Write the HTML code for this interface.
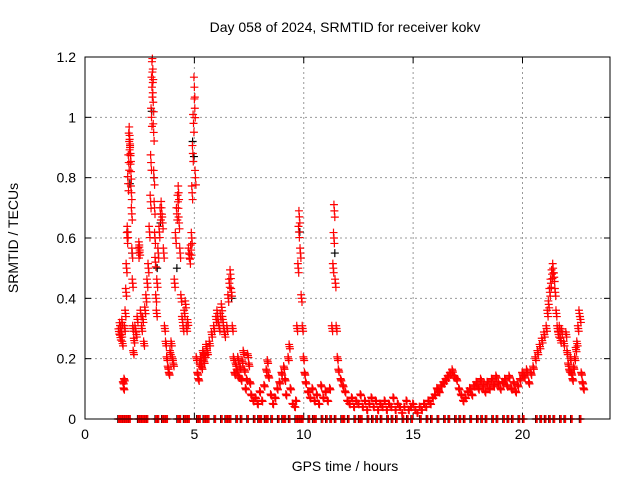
<!DOCTYPE html>
<html><head><meta charset="utf-8"><style>
body{margin:0;background:#fff}
svg{display:block;font-family:"Liberation Sans",sans-serif}
</style></head><body>
<svg id="chart" width="640" height="480" viewBox="0 0 640 480" xmlns="http://www.w3.org/2000/svg">
<rect width="640" height="480" fill="#fff"/>
<text x="345" y="32" font-size="14" text-anchor="middle">Day 058 of 2024, SRMTID for receiver kokv</text>
<text x="345" y="471" font-size="14" text-anchor="middle">GPS time / hours</text>
<text transform="translate(18,238) rotate(-90)" font-size="14" text-anchor="middle">SRMTID / TECUs</text>
<g id="grid"></g>
<g id="ticks"></g>
<g id="marks"></g>
<rect x="85" y="57" width="525" height="362" fill="none" stroke="#000" stroke-width="1"/>
</svg>
<script>
const xTicks=[0,5,10,15,20];
const yTicks=[0,0.2,0.4,0.6,0.8,1.0,1.2];
const yTickLabels=["0","0.2","0.4","0.6","0.8","1","1.2"];
const times=[1.55,1.6,1.62,1.65,1.68,1.7,1.72,1.75,1.78,1.8,1.82,1.85,1.88,1.9,1.93,1.95,1.97,2.0,2.02,2.04,2.06,2.08,2.1,2.12,2.14,2.16,2.18,2.2,2.22,2.25,2.3,2.35,2.4,2.45,2.48,2.5,2.55,2.6,2.65,2.7,2.75,2.8,2.85,2.9,2.95,3.0,3.02,3.04,3.06,3.08,3.1,3.12,3.14,3.16,3.18,3.2,3.22,3.25,3.28,3.3,3.35,3.4,3.45,3.5,3.55,3.6,3.65,3.7,3.75,3.8,3.85,3.9,3.95,4.0,4.05,4.1,4.15,4.2,4.25,4.28,4.3,4.35,4.4,4.45,4.5,4.55,4.6,4.65,4.7,4.75,4.8,4.85,4.88,4.9,4.93,4.96,5.0,5.02,5.05,5.1,5.15,5.2,5.25,5.3,5.35,5.4,5.45,5.5,5.55,5.6,5.7,5.8,5.9,6.0,6.05,6.1,6.15,6.2,6.25,6.3,6.35,6.4,6.5,6.55,6.6,6.65,6.7,6.75,6.8,6.85,6.9,6.95,7.0,7.05,7.1,7.15,7.2,7.25,7.3,7.35,7.4,7.45,7.5,7.55,7.6,7.7,7.8,7.9,8.0,8.1,8.2,8.3,8.35,8.4,8.5,8.6,8.7,8.8,8.9,9.0,9.1,9.15,9.2,9.3,9.35,9.4,9.5,9.6,9.65,9.7,9.75,9.78,9.8,9.85,9.9,9.95,10.0,10.05,10.1,10.2,10.3,10.4,10.5,10.6,10.7,10.8,10.9,11.0,11.1,11.2,11.3,11.35,11.38,11.4,11.45,11.5,11.55,11.6,11.7,11.8,11.9,12.0,12.1,12.2,12.3,12.4,12.5,12.6,12.7,12.8,12.9,13.0,13.1,13.2,13.3,13.4,13.5,13.6,13.7,13.8,13.9,14.0,14.1,14.2,14.3,14.4,14.5,14.6,14.7,14.8,14.9,15.0,15.1,15.2,15.3,15.4,15.5,15.6,15.7,15.8,15.9,16.0,16.1,16.2,16.3,16.4,16.5,16.6,16.7,16.8,16.9,17.0,17.1,17.2,17.3,17.4,17.5,17.6,17.7,17.8,17.9,18.0,18.1,18.2,18.3,18.4,18.5,18.6,18.7,18.8,18.9,19.0,19.1,19.2,19.3,19.4,19.5,19.6,19.7,19.8,19.9,20.0,20.1,20.2,20.3,20.4,20.5,20.6,20.7,20.8,20.9,21.0,21.1,21.15,21.2,21.25,21.3,21.35,21.4,21.45,21.5,21.55,21.6,21.65,21.7,21.75,21.8,21.9,22.0,22.05,22.1,22.15,22.2,22.25,22.3,22.35,22.4,22.45,22.5,22.55,22.6,22.65,22.7,22.75,22.8];
const values=[.29,.31,.27,.3,.28,.32,.25,.12,.1,.13,.3,.35,.42,.5,.6,.62,.78,.85,.92,.94,.9,.88,.82,.75,.68,.55,.45,.3,.22,.26,.3,.28,.33,.55,.57,.56,.35,.3,.33,.25,.36,.4,.45,.5,.62,.72,.85,1.0,1.1,1.15,1.16,1.05,.95,.8,.7,.6,.52,.4,.35,.45,.55,.62,.68,.7,.65,.55,.3,.25,.2,.17,.15,.22,.25,.2,.18,.45,.6,.68,.72,.75,.65,.55,.4,.33,.3,.35,.38,.3,.32,.55,.53,.56,.6,.75,.88,.98,1.1,1.03,.8,.2,.15,.13,.18,.2,.17,.22,.19,.21,.24,.22,.25,.28,.3,.33,.35,.32,.3,.34,.37,.33,.3,.28,.3,.4,.45,.48,.42,.3,.2,.15,.18,.16,.2,.14,.17,.13,.19,.22,.16,.1,.13,.21,.18,.12,.08,.06,.07,.05,.09,.06,.11,.16,.19,.14,.08,.05,.07,.1,.12,.15,.17,.13,.08,.2,.24,.1,.05,.04,.06,.3,.5,.62,.67,.55,.4,.3,.2,.15,.12,.09,.07,.1,.06,.08,.05,.11,.07,.09,.06,.1,.3,.5,.6,.69,.45,.3,.2,.16,.13,.11,.09,.06,.05,.07,.04,.06,.05,.08,.04,.06,.03,.05,.07,.04,.06,.03,.05,.04,.06,.03,.05,.04,.07,.03,.05,.04,.02,.04,.06,.03,.04,.05,.03,.02,.04,.03,.05,.04,.06,.05,.07,.08,.1,.09,.11,.12,.13,.14,.15,.16,.14,.13,.1,.08,.06,.07,.09,.1,.08,.11,.12,.1,.13,.11,.09,.12,.1,.13,.11,.14,.12,.1,.12,.13,.11,.14,.1,.12,.09,.11,.13,.15,.14,.16,.12,.15,.17,.2,.22,.24,.26,.28,.3,.35,.38,.42,.45,.48,.5,.47,.42,.35,.3,.28,.3,.26,.29,.25,.28,.22,.18,.16,.2,.15,.13,.17,.2,.23,.25,.3,.35,.33,.15,.12,.1];
const blackTimes=[1.95,2.05,2.15,3.05,3.15,3.3,3.45,4.2,4.92,4.98,6.7,9.82,11.42];
const blackValues=[.62,.78,.55,1.02,.8,.5,.65,.5,.92,.87,.4,.62,.55];
const zeroTimes=[1.5,1.6,1.7,1.8,1.9,2.0,2.4,2.5,2.6,2.7,2.8,3.2,3.3,3.5,3.6,3.7,4.2,4.3,4.5,4.6,4.7,5.1,5.2,5.4,5.5,5.6,5.9,6.2,6.4,6.5,6.6,6.9,7.1,7.4,7.7,7.9,8.0,8.2,8.3,8.5,8.8,9.0,9.1,9.3,9.6,9.7,9.8,9.9,10.2,10.4,10.5,10.8,11.0,11.2,11.4,11.7,11.8,12.0,12.3,12.5,12.6,12.9,13.1,13.3,13.5,13.8,14.0,14.2,14.5,14.7,14.9,15.3,15.6,15.8,16.1,16.4,16.6,16.9,17.1,17.3,17.6,17.9,18.1,18.3,18.6,18.8,19.1,19.3,19.5,19.8,20.0,20.6,20.8,21.0,21.2,21.4,21.7,21.9,22.2,22.6];

const X0=85,X1=610,Y0=419,Y1=57;
function xs(t){return X0+(t/24)*(X1-X0);}
function ys(v){return Y0-(v/1.2)*(Y0-Y1);}
const NS="http://www.w3.org/2000/svg";
function mk(tag,attrs,parent){const e=document.createElementNS(NS,tag);for(const k in attrs)e.setAttribute(k,attrs[k]);parent.appendChild(e);return e;}
const grid=document.getElementById('grid'),ticks=document.getElementById('ticks'),marks=document.getElementById('marks');
xTicks.forEach((t,i)=>{
  const x=xs(t);
  if(t>0){const g=mk('line',{x1:x,x2:x,y1:Y1,y2:Y0,stroke:'#999','stroke-dasharray':'2,3'},grid);
  
  }
  mk('line',{x1:x,x2:x,y1:Y0,y2:Y0-6,stroke:'#000'},ticks);
  mk('line',{x1:x,x2:x,y1:Y1,y2:Y1+6,stroke:'#000'},ticks);
  const l=mk('text',{x:x,y:Y0+20,'font-size':14,'text-anchor':'middle'},ticks);
  l.textContent=String(t);
  
  
});
yTicks.forEach((v,i)=>{
  const y=ys(v);
  if(v>0&&v<1.2){const g=mk('line',{x1:X0,x2:X1,y1:y,y2:y,stroke:'#999','stroke-dasharray':'2,3'},grid);
  
  }
  mk('line',{x1:X0,x2:X0+6,y1:y,y2:y,stroke:'#000'},ticks);
  mk('line',{x1:X1,x2:X1-6,y1:y,y2:y,stroke:'#000'},ticks);
  const l=mk('text',{x:X0-9,y:y+5,'font-size':14,'text-anchor':'end'},ticks);
  l.textContent=yTickLabels[i];
  
  
});
function plus(t,v,col,name){
  const x=xs(t),y=ys(v);
  const p=mk('path',{d:`M${x-4},${y}H${x+4}M${x},${y-4}V${y+4}`,stroke:col,'stroke-width':1.2,fill:'none'},marks);
  
  
}
blackTimes.forEach((t,i)=>plus(t,blackValues[i],'#000','black-point'));
zeroTimes.forEach(t=>plus(t,0,'#000','zero-point-black'));
times.forEach((t,i)=>plus(t,values[i],'#f00','srmtid-point'));
times.forEach((t,i)=>plus(t+0.02,values[i]*0.97,'#f00','srmtid-point'));
times.forEach((t,i)=>plus(t-0.02,values[i]*1.03,'#f00','srmtid-point'));
zeroTimes.forEach(t=>plus(t+0.03,0,'#f00','zero-point'));
zeroTimes.forEach(t=>plus(t+0.07,0,'#f00','zero-point'));
</script>
</body></html>
